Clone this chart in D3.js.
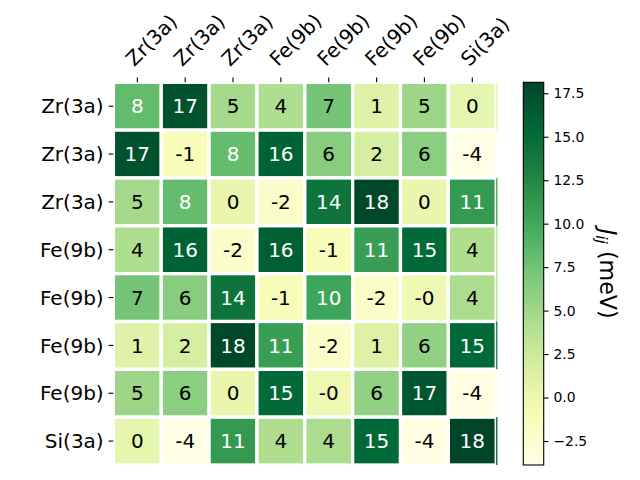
<!DOCTYPE html>
<html><head><meta charset="utf-8">
<script src="https://cdn.jsdelivr.net/npm/d3@7"></script>
<style>body{margin:0;background:#fff} text{font-family:"DejaVu Sans",sans-serif}</style>
</head><body><svg id="c" width="640" height="480"></svg>
<script>
const rowLabels = ["Zr(3a)","Zr(3a)","Zr(3a)","Fe(9b)","Fe(9b)","Fe(9b)","Fe(9b)","Si(3a)"];
const colLabels = ["Zr(3a)","Zr(3a)","Zr(3a)","Fe(9b)","Fe(9b)","Fe(9b)","Fe(9b)","Si(3a)"];
const row0 = [8.2, 17.2, 4.8, 4.3, 7.3, 1.1, 5.2, 0.3];
const row1 = [17.2, -1.2, 8.1, 15.8, 6.3, 1.9, 6.2, -3.88];
const row2 = [4.8, 8.1, 0.2, -2.1, 14.2, 17.9, 0.2, 11.1];
const row3 = [4.3, 15.8, -2.1, 16.1, -1.1, 10.8, 15.2, 4.2];
const row4 = [7.3, 6.3, 14.2, -1.1, 10.2, -2.0, -0.3, 4.4];
const row5 = [1.1, 1.9, 17.9, 10.8, -2.0, 1.2, 5.8, 15.3];
const row6 = [5.2, 6.2, 0.2, 15.2, -0.3, 5.8, 16.8, -3.7];
const row7 = [0.3, -3.88, 11.1, 4.2, 4.4, 15.3, -3.7, 18.13];
const values = [row0,row1,row2,row3,row4,row5,row6,row7];
const cbTicks = [-2.5, 0, 2.5, 5, 7.5, 10, 12.5, 15, 17.5];
const cbLabel = "J";

// YlGn (matplotlib) control colours
const ylgn = ["#ffffe5","#f7fcb9","#d9f0a3","#addd8e","#78c679","#41ab5d","#238443","#006837","#004529"];

const svg = d3.select("#c");
const all = values.flat();
const vmin = d3.min(all), vmax = d3.max(all);
const tScale = d3.scaleLinear().domain(ylgn.map((d,i)=>i/(ylgn.length-1))).range(ylgn).interpolate(d3.interpolateRgb);
const color = v => tScale((v - vmin)/(vmax - vmin));

const L = 113.4, R = 496.2, T = 82.3, B = 465;
const x = d3.scaleBand().domain(d3.range(8)).range([L, R]);
const y = d3.scaleBand().domain(d3.range(8)).range([T, B]);
const FS = "20px";

function lum(c){
  const r = d3.rgb(c);
  const f = v => { v/=255; return v <= 0.03928 ? v/12.92 : Math.pow((v+0.055)/1.055, 2.4); };
  return 0.2126*f(r.r) + 0.7152*f(r.g) + 0.0722*f(r.b);
}
function fmt(v){ const r = Math.round(Math.abs(v)); return (v < 0 ? "-" : "") + r; }

const cells = [];
values.forEach((row,i)=>row.forEach((v,j)=>cells.push({i,j,v})));

const g = svg.append("g");
g.selectAll("rect.cell").data(cells).join("rect").attr("class","cell")
  .attr("x", d=>x(d.j)).attr("y", d=>y(d.i))
  .attr("width", x.bandwidth()).attr("height", y.bandwidth())
  .attr("fill", d=>color(d.v))
  .attr("stroke", "#fff").attr("stroke-width", 3.3);

// thin right-edge strip
g.selectAll("rect.strip").data(values).join("rect").attr("class","strip")
  .attr("x", R).attr("y", (d,i)=>y(i)).attr("width", 1.2).attr("height", y.bandwidth())
  .attr("fill", d=>color(d[d.length-1]));

g.selectAll("text.ann").data(cells).join("text").attr("class","ann")
  .attr("x", d=>x(d.j)+x.bandwidth()/2).attr("y", d=>y(d.i)+y.bandwidth()/2)
  .attr("dy","0.36em").attr("text-anchor","middle")
  .attr("font-size", FS)
  .attr("fill", d=> lum(color(d.v)) < 0.408 ? "#fff" : "#000")
  .text(d=>fmt(d.v));

// y axis ticks + labels
const tickLen = 4.86, pad = 4.86;
const yl = svg.append("g");
yl.selectAll("line").data(rowLabels).join("line")
  .attr("x1", L - tickLen).attr("x2", L)
  .attr("y1", (d,i)=>y(i)+y.bandwidth()/2).attr("y2", (d,i)=>y(i)+y.bandwidth()/2)
  .attr("stroke","#000").attr("stroke-width",1.1);
yl.selectAll("text").data(rowLabels).join("text")
  .attr("x", L - tickLen - pad).attr("y", (d,i)=>y(i)+y.bandwidth()/2)
  .attr("dy","0.36em").attr("text-anchor","end").attr("font-size",FS)
  .text(d=>d);

// top x axis
const xl = svg.append("g");
xl.selectAll("line").data(colLabels).join("line")
  .attr("x1", (d,i)=>x(i)+x.bandwidth()/2).attr("x2", (d,i)=>x(i)+x.bandwidth()/2)
  .attr("y1", T - tickLen).attr("y2", T)
  .attr("stroke","#000").attr("stroke-width",1.1);
xl.selectAll("text").data(colLabels).join("text")
  .attr("transform", (d,i)=>`translate(${x(i)+x.bandwidth()/2 - 3},${T - 15}) rotate(-45)`)
  .attr("text-anchor","start").attr("font-size",FS)
  .text(d=>d);

// colorbar
const cbL = 523.3, cbW = 20.4;
const cy = d3.scaleLinear().domain([vmin, vmax]).range([B, T]);
const defs = svg.append("defs");
const grad = defs.append("linearGradient").attr("id","cbg")
  .attr("x1",0).attr("y1",1).attr("x2",0).attr("y2",0);
grad.selectAll("stop").data(ylgn).join("stop")
  .attr("offset",(d,i)=>i/(ylgn.length-1)).attr("stop-color",d=>d);
svg.append("rect").attr("x",cbL).attr("y",T).attr("width",cbW).attr("height",B-T)
  .attr("fill","url(#cbg)");
const cbAxis = d3.axisRight(cy).tickValues(cbTicks).tickSize(tickLen).tickPadding(pad).tickFormat(d3.format(".1f"));
const cba = svg.append("g").attr("transform",`translate(${cbL+cbW},0)`).call(cbAxis);
cba.select(".domain").remove();
cba.selectAll("line").attr("stroke-width",1.1);
cba.selectAll("text").attr("font-size","13.9px").attr("font-family","DejaVu Sans");
svg.append("rect").attr("x",cbL).attr("y",T).attr("width",cbW).attr("height",B-T)
  .attr("fill","none").attr("stroke","#000").attr("stroke-width",1.1);

const lab = svg.append("text")
  .attr("transform",`translate(600,${(T+B)/2}) rotate(90)`)
  .attr("text-anchor","middle").attr("font-size","22.2px");
lab.append("tspan").attr("font-style","italic").text(cbLabel);
lab.append("tspan").attr("font-style","italic").attr("font-size","15.5px").attr("dy","4").text("ij");
lab.append("tspan").attr("dy","-4").text(" (meV)");
</script></body></html>
